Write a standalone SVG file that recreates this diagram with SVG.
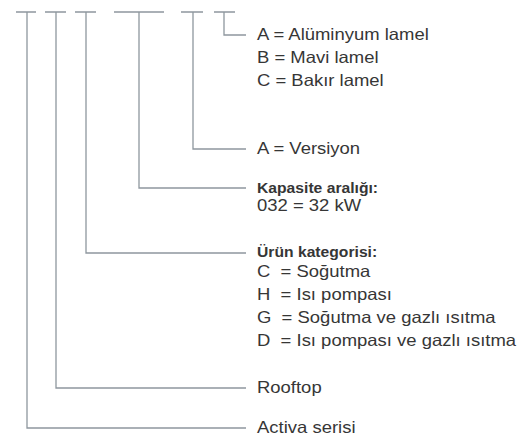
<svg xmlns="http://www.w3.org/2000/svg" width="529" height="436" viewBox="0 0 529 436">
<style>
.ln{fill:none;stroke:#8e979e;stroke-width:1.3}
.t{font-family:"Liberation Sans",Arial,sans-serif;font-size:16.5px;fill:#363636;white-space:pre}
.b{font-family:"Liberation Sans",Arial,sans-serif;font-size:14px;font-weight:bold;fill:#363636}
</style>
<rect width="529" height="436" fill="#ffffff"/>
<g id="connectors">
<path class="ln" d="M16 12H36M27 12V428H246"/>
<path class="ln" d="M45 12H66M56 12V388H246"/>
<path class="ln" d="M75 12H96M86 12V253H246"/>
<path class="ln" d="M114 12H164M139 12V188H246"/>
<path class="ln" d="M181 12H203M193 12V149H246"/>
<path class="ln" d="M214 12H235M224 12V35H246"/>
</g>
<g transform="translate(257,0) scale(1.12,1)">
<g id="lamel">
<text class="t" x="0" y="40">A = Alüminyum lamel</text>
<text class="t" x="0" y="63">B = Mavi lamel</text>
<text class="t" x="0" y="86">C = Bakır lamel</text>
</g>
<g id="versiyon">
<text class="t" x="0" y="154">A = Versiyon</text>
</g>
<g id="kapasite">
<text class="b" x="0" y="193">Kapasite aralığı:</text>
<text class="t" x="0" y="211">032 = 32 kW</text>
</g>
<g id="kategori">
<text class="b" x="0" y="257">Ürün kategorisi:</text>
<text class="t" x="0" y="277">C  = Soğutma</text>
<text class="t" x="0" y="300">H  = Isı pompası</text>
<text class="t" x="0" y="323">G  = Soğutma ve gazlı ısıtma</text>
<text class="t" x="0" y="346">D  = Isı pompası ve gazlı ısıtma</text>
</g>
<g id="rooftop">
<text class="t" x="0" y="393">Rooftop</text>
</g>
<g id="activa">
<text class="t" x="0" y="433">Activa serisi</text>
</g>
</g>
</svg>
